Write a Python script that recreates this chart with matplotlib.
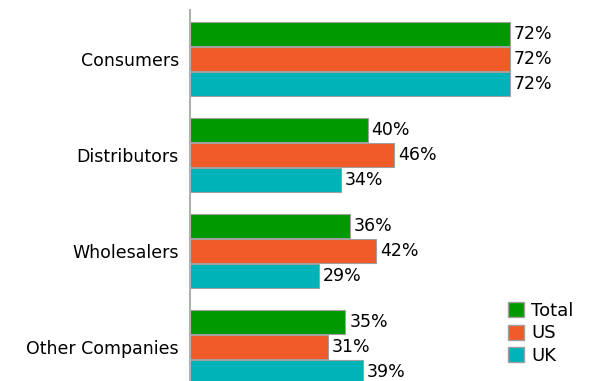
import matplotlib.pyplot as plt
from matplotlib.patches import Patch
import numpy as np

plt.rcParams['font.family'] = ['DejaVu Sans']

# Data
categories = ['Consumers', 'Distributors', 'Wholesalers', 'Other Companies']
series_names = ['Total', 'US', 'UK']
total = [72, 40, 36, 35]
us = [72, 46, 42, 31]
uk = [72, 34, 29, 39]
colors = ['#009a00', '#f15a29', '#00b3b8']

fig = plt.figure(figsize=(5.9, 3.81), dpi=100)
ax = fig.add_axes([190/590, 0, 1 - 190/590, 1 - 10/381])

bh = 0.26
y = np.arange(len(categories))
for i, (vals, c) in enumerate(zip([total, us, uk], colors)):
    pos = y + (i - 1) * bh
    ax.barh(pos, vals, height=bh * 0.96, color=c, edgecolor='#a0a0a0', linewidth=0.8)
    for p, v in zip(pos, vals):
        ax.text(v + 0.9, p, '%d%%' % v, va='center', ha='left', fontsize=12.5)

ax.set_xlim(0, 400 / 4.44)
ax.set_ylim(3.355, -0.51)
ax.set_yticks(y)
ax.set_yticklabels(categories, fontsize=12.5)
ax.tick_params(axis='y', length=0, pad=8)
ax.set_xticks([])
for s in ['top', 'right', 'bottom']:
    ax.spines[s].set_visible(False)
ax.spines['left'].set_color('#b0b0b0')
ax.spines['left'].set_linewidth(1.5)

handles = [Patch(facecolor=c, edgecolor='#a0a0a0', label=n) for c, n in zip(colors, series_names)]
ax.legend(handles=handles, loc='lower right', bbox_to_anchor=(1.0, 0.0), frameon=False,
          fontsize=13, handlelength=0.9, handleheight=0.9, handletextpad=0.4,
          labelspacing=0.25, borderaxespad=0.5)

fig.savefig('out.png', dpi=100)
